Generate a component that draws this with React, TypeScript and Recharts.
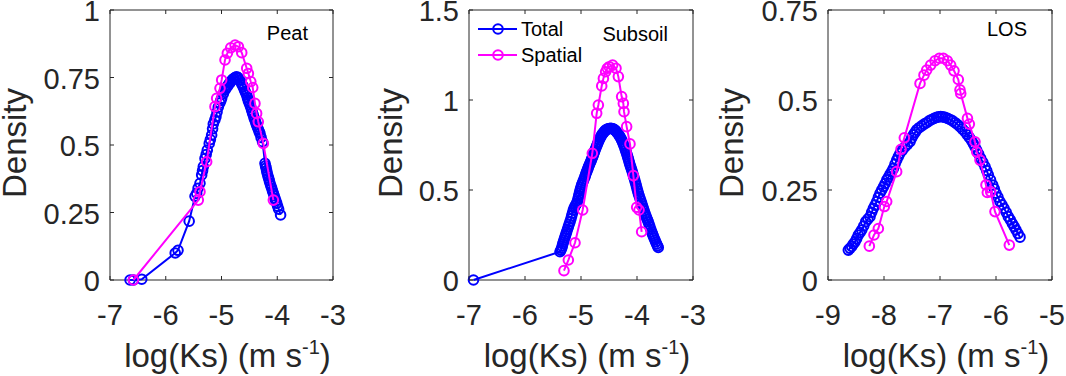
import React from 'react';
import { ScatterChart, Scatter, XAxis, YAxis, ReferenceArea, Legend } from 'recharts';

const BLUE = '#0000ff';
const MAGENTA = '#ff00ff';
const INK = '#262626';
const FONT = '"Liberation Sans", Arial, Helvetica, sans-serif';

type Pt = [number, number];

// Peat
const peatTotal: Pt[] = [
  [-6.64, 0], [-6.58, 0], [-6.43, 0.003], [-5.83, 0.1], [-5.78, 0.11], [-5.58, 0.218],
  [-5.475, 0.31], [-5.445, 0.321], [-5.42, 0.34], [-5.386, 0.358], [-5.356, 0.389], [-5.34, 0.405],
  [-5.326, 0.42], [-5.296, 0.45], [-5.275, 0.465], [-5.255, 0.481], [-5.22, 0.506], [-5.2, 0.52], [-5.177, 0.537],
  [-5.16, 0.56], [-5.147, 0.578], [-5.12, 0.592], [-5.1, 0.605], [-5.08, 0.622], [-5.058, 0.64], [-5.03, 0.655], [-5.012, 0.665], [-4.997, 0.673],
  [-4.967, 0.69], [-4.937, 0.704], [-4.92, 0.71], [-4.9, 0.716], [-4.88, 0.722], [-4.86, 0.728], [-4.84, 0.733], [-4.82, 0.738], [-4.8, 0.743], [-4.776, 0.747],
  [-4.75, 0.751], [-4.727, 0.753], [-4.7, 0.749], [-4.668, 0.741], [-4.64, 0.728], [-4.625, 0.722], [-4.61, 0.716], [-4.595, 0.708], [-4.58, 0.7], [-4.565, 0.693], [-4.548, 0.685],
  [-4.535, 0.675], [-4.52, 0.665], [-4.505, 0.657], [-4.489, 0.648], [-4.475, 0.64], [-4.46, 0.63], [-4.445, 0.62], [-4.43, 0.611], [-4.415, 0.6], [-4.4, 0.592], [-4.385, 0.583], [-4.37, 0.574],
  [-4.355, 0.566], [-4.34, 0.558], [-4.325, 0.55], [-4.31, 0.543], [-4.29, 0.528], [-4.264, 0.512], [-4.22, 0.432], [-4.21, 0.423], [-4.2, 0.415], [-4.19, 0.405], [-4.18, 0.395],
  [-4.168, 0.386], [-4.155, 0.377], [-4.142, 0.368], [-4.13, 0.358], [-4.115, 0.349], [-4.1, 0.34], [-4.085, 0.33], [-4.07, 0.321], [-4.055, 0.312], [-4.04, 0.302], [-4.025, 0.293], [-4.01, 0.284],
  [-3.993, 0.273], [-3.975, 0.262], [-3.94, 0.241],
];
const peatSpatial: Pt[] = [
  [-6.58, 0], [-5.416, 0.296], [-5.386, 0.327], [-5.266, 0.438], [-5.117, 0.642], [-5.087, 0.673],
  [-5.027, 0.71], [-4.997, 0.741], [-4.937, 0.815], [-4.895, 0.84], [-4.835, 0.86], [-4.757, 0.87],
  [-4.697, 0.864], [-4.637, 0.842], [-4.548, 0.784], [-4.518, 0.765], [-4.475, 0.735], [-4.44, 0.713],
  [-4.4, 0.654], [-4.37, 0.617], [-4.34, 0.586], [-4.25, 0.506], [-4.07, 0.296],
];

// Subsoil
const subsoilTotal: Pt[] = [
  [-6.92, 0], [-5.375, 0.157], [-5.36, 0.166], [-5.345, 0.176], [-5.335, 0.188], [-5.325, 0.2], [-5.315, 0.211], [-5.304, 0.222], [-5.292, 0.233], [-5.28, 0.245],
  [-5.268, 0.256], [-5.256, 0.268], [-5.241, 0.282], [-5.226, 0.296], [-5.211, 0.31], [-5.196, 0.324], [-5.18, 0.34], [-5.167, 0.356], [-5.152, 0.372], [-5.137, 0.389], [-5.122, 0.4], [-5.107, 0.41],
  [-5.092, 0.418], [-5.077, 0.426], [-5.063, 0.44], [-5.05, 0.455], [-5.04, 0.468], [-5.03, 0.481], [-5.02, 0.493], [-5.01, 0.505], [-4.999, 0.516], [-4.988, 0.528], [-4.974, 0.539], [-4.96, 0.55],
  [-4.945, 0.562], [-4.929, 0.574], [-4.92, 0.583], [-4.91, 0.593], [-4.898, 0.602], [-4.887, 0.611], [-4.876, 0.62], [-4.865, 0.63], [-4.852, 0.639], [-4.84, 0.648], [-4.827, 0.657], [-4.815, 0.667],
  [-4.803, 0.676], [-4.792, 0.685], [-4.781, 0.694], [-4.77, 0.704], [-4.76, 0.713], [-4.75, 0.722], [-4.735, 0.733], [-4.72, 0.745], [-4.705, 0.756], [-4.69, 0.768], [-4.675, 0.778], [-4.66, 0.788],
  [-4.645, 0.797], [-4.63, 0.806], [-4.612, 0.813], [-4.595, 0.82], [-4.578, 0.827], [-4.56, 0.833], [-4.537, 0.837], [-4.515, 0.84], [-4.492, 0.842], [-4.47, 0.843], [-4.45, 0.842], [-4.43, 0.84],
  [-4.412, 0.837], [-4.393, 0.833], [-4.378, 0.828], [-4.363, 0.822], [-4.348, 0.817], [-4.333, 0.811], [-4.318, 0.803], [-4.303, 0.795], [-4.288, 0.787], [-4.274, 0.778], [-4.259, 0.767], [-4.244, 0.755],
  [-4.229, 0.743], [-4.214, 0.731], [-4.202, 0.72], [-4.19, 0.708], [-4.178, 0.697], [-4.167, 0.685], [-4.156, 0.674], [-4.145, 0.662], [-4.135, 0.65], [-4.125, 0.639], [-4.112, 0.628], [-4.1, 0.616],
  [-4.088, 0.605], [-4.077, 0.593], [-4.063, 0.579], [-4.05, 0.565], [-4.037, 0.551], [-4.024, 0.537], [-4.012, 0.523], [-4.0, 0.509], [-3.988, 0.495], [-3.976, 0.481], [-3.961, 0.467], [-3.946, 0.453],
  [-3.931, 0.44], [-3.917, 0.426], [-3.902, 0.412], [-3.887, 0.398], [-3.872, 0.384], [-3.857, 0.37], [-3.843, 0.358], [-3.83, 0.347], [-3.815, 0.336], [-3.8, 0.324], [-3.785, 0.31], [-3.77, 0.296],
  [-3.754, 0.282], [-3.738, 0.268], [-3.724, 0.256], [-3.71, 0.245], [-3.695, 0.233], [-3.679, 0.222], [-3.665, 0.211], [-3.65, 0.2], [-3.635, 0.19], [-3.62, 0.181],
];
const subsoilSpatial: Pt[] = [
  [-5.304, 0.052], [-5.226, 0.111], [-5.107, 0.207], [-4.97, 0.389], [-4.798, 0.704], [-4.72, 0.926],
  [-4.69, 0.972], [-4.63, 1.078], [-4.6, 1.12], [-4.56, 1.157], [-4.53, 1.176], [-4.495, 1.185],
  [-4.435, 1.194], [-4.375, 1.176], [-4.333, 1.13], [-4.274, 1.019], [-4.244, 0.981], [-4.232, 0.935],
  [-4.185, 0.852], [-4.125, 0.756], [-4.065, 0.58], [-4.006, 0.404], [-3.964, 0.389], [-3.917, 0.268],
];

// LOS
const losTotal: Pt[] = [
  [-8.637, 0.083], [-8.607, 0.088], [-8.577, 0.093], [-8.548, 0.1], [-8.518, 0.106], [-8.488, 0.115], [-8.458, 0.125], [-8.428, 0.132], [-8.398, 0.139], [-8.362, 0.15], [-8.327, 0.162],
  [-8.288, 0.169], [-8.25, 0.176], [-8.22, 0.188], [-8.19, 0.199], [-8.16, 0.208], [-8.13, 0.218], [-8.1, 0.23], [-8.071, 0.241], [-8.04, 0.25], [-8.01, 0.259], [-7.98, 0.268], [-7.95, 0.278],
  [-7.92, 0.286], [-7.89, 0.294], [-7.86, 0.302], [-7.833, 0.31], [-7.803, 0.322], [-7.773, 0.333], [-7.744, 0.343], [-7.714, 0.352], [-7.67, 0.361], [-7.625, 0.37], [-7.58, 0.377], [-7.536, 0.384],
  [-7.506, 0.394], [-7.476, 0.403], [-7.446, 0.41], [-7.417, 0.417], [-7.372, 0.423], [-7.327, 0.428], [-7.283, 0.433], [-7.238, 0.437], [-7.193, 0.442], [-7.148, 0.446], [-7.104, 0.449], [-7.06, 0.452],
  [-7.024, 0.453], [-6.988, 0.454], [-6.95, 0.453], [-6.911, 0.452], [-6.865, 0.449], [-6.82, 0.446], [-6.775, 0.442], [-6.73, 0.437], [-6.687, 0.432], [-6.643, 0.426], [-6.6, 0.419], [-6.554, 0.412],
  [-6.515, 0.404], [-6.476, 0.396], [-6.44, 0.388], [-6.405, 0.379], [-6.375, 0.37], [-6.345, 0.361], [-6.31, 0.35], [-6.274, 0.338], [-6.235, 0.327], [-6.196, 0.315], [-6.166, 0.304], [-6.137, 0.292],
  [-6.098, 0.278], [-6.059, 0.264], [-6.03, 0.253], [-6.0, 0.241], [-5.965, 0.23], [-5.929, 0.218], [-5.893, 0.209], [-5.857, 0.199], [-5.818, 0.188], [-5.78, 0.176], [-5.744, 0.167], [-5.708, 0.157],
  [-5.675, 0.148], [-5.643, 0.139], [-5.607, 0.129], [-5.571, 0.119],
];
const losSpatial: Pt[] = [
  [-8.262, 0.094], [-8.179, 0.125], [-8.101, 0.143], [-7.994, 0.204], [-7.952, 0.218], [-7.774, 0.301],
  [-7.696, 0.363], [-7.637, 0.395], [-7.357, 0.546], [-7.286, 0.569], [-7.238, 0.583], [-7.167, 0.597],
  [-7.089, 0.609], [-7.012, 0.616], [-6.94, 0.616], [-6.869, 0.609], [-6.81, 0.597], [-6.75, 0.581],
  [-6.673, 0.557], [-6.643, 0.528], [-6.63, 0.518], [-6.51, 0.449], [-6.476, 0.433], [-6.375, 0.384],
  [-6.345, 0.356], [-6.286, 0.333], [-6.179, 0.264], [-6.155, 0.243], [-6.095, 0.245], [-6.018, 0.19],
  [-5.762, 0.097],
];

const SERIES = [
  { name: 'Total', color: BLUE },
  { name: 'Spatial', color: MAGENTA },
];

const TOP = 10;
const BOTTOM = 280;
const Y_AXIS_W = 60;
const X_AXIS_H = 60;

const rows = (pts: Pt[]) => pts.map(([x, y]) => ({ x, y }));

const ring = (color: string) => (p: any) => (
  <circle cx={p.cx} cy={p.cy} r={4.8} fill="none" stroke={color} strokeWidth={2} />
);

type PanelProps = {
  left: number;
  width: number;
  plotLeft: number;
  plotRight: number;
  xDomain: [number, number];
  xTicks: number[];
  yDomain: [number, number];
  yTicks: number[];
  total: Pt[];
  spatial: Pt[];
  tag: string;
  tagBaseline: number;
  densityX: number;
  legend?: boolean;
};

function Panel(p: PanelProps) {
  const XTick = ({ x, payload }: any) => (
    <g>
      <line x1={x} x2={x} y1={BOTTOM} y2={BOTTOM - 4} stroke={INK} />
      <line x1={x} x2={x} y1={TOP} y2={TOP + 4} stroke={INK} />
      <text x={x} y={BOTTOM + 45} textAnchor="middle" fontSize={29} fill={INK} fontFamily={FONT}>
        {payload.value}
      </text>
    </g>
  );
  const YTick = ({ y, payload }: any) => (
    <g>
      <line x1={p.plotLeft} x2={p.plotLeft + 4} y1={y} y2={y} stroke={INK} />
      <line x1={p.plotRight} x2={p.plotRight - 4} y1={y} y2={y} stroke={INK} />
      <text x={p.plotLeft - 10} y={y + 11} textAnchor="end" fontSize={29} fill={INK} fontFamily={FONT}>
        {payload.value}
      </text>
    </g>
  );
  const mid = (p.plotLeft + p.plotRight) / 2 + 6;

  return (
    <div style={{ position: 'absolute', left: p.left, top: 0 }}>
      <ScatterChart
        width={p.width}
        height={376}
        margin={{
          top: TOP,
          bottom: 376 - BOTTOM - X_AXIS_H,
          left: p.plotLeft - Y_AXIS_W,
          right: p.width - p.plotRight,
        }}
      >
        <XAxis
          type="number"
          dataKey="x"
          domain={p.xDomain}
          ticks={p.xTicks}
          interval={0}
          height={X_AXIS_H}
          axisLine={false}
          tickLine={false}
          tick={XTick}
          label={{
            value: 'log(Ks)',
            content: () => (
              <text x={mid} y={367} textAnchor="middle" fontSize={33} fill={INK} fontFamily={FONT}>
                log(Ks) (m s<tspan fontSize={20} dy={-13}>-1</tspan>
                <tspan dy={13}>)</tspan>
              </text>
            ),
          }}
        />
        <YAxis
          type="number"
          dataKey="y"
          domain={p.yDomain}
          ticks={p.yTicks}
          interval={0}
          width={Y_AXIS_W}
          axisLine={false}
          tickLine={false}
          tick={YTick}
          label={{
            value: 'Density',
            content: () => (
              <text
                transform={`translate(${p.densityX}, 143) rotate(-90)`}
                textAnchor="middle"
                fontSize={33}
                fill={INK}
                fontFamily={FONT}
              >
                Density
              </text>
            ),
          }}
        />
        <ReferenceArea
          x1={p.xDomain[0]}
          x2={p.xDomain[1]}
          y1={p.yDomain[0]}
          y2={p.yDomain[1]}
          fill="none"
          stroke={INK}
          strokeWidth={1}
          label={{
            value: p.tag,
            content: () => (
              <text x={p.plotRight - 25} y={p.tagBaseline} textAnchor="end" fontSize={20} fill="#000" fontFamily={FONT}>
                {p.tag}
              </text>
            ),
          }}
        />
        <Scatter
          name={SERIES[0].name}
          data={rows(p.total)}
          line={{ stroke: BLUE, strokeWidth: 2 }}
          lineType="joint"
          shape={ring(BLUE)}
          isAnimationActive={false}
        />
        <Scatter
          name={SERIES[1].name}
          data={rows(p.spatial)}
          line={{ stroke: MAGENTA, strokeWidth: 2 }}
          lineType="joint"
          shape={ring(MAGENTA)}
          isAnimationActive={false}
        />
        {p.legend && (
          <Legend
            layout="vertical"
            align="center"
            verticalAlign="middle"
            wrapperStyle={{ left: p.plotLeft + 4, top: 10, width: 130, height: 60 }}
            content={() => (
              <svg width={130} height={60} style={{ display: 'block' }}>
                {SERIES.map((s, i) => (
                  <g key={s.name}>
                    <line x1={5} x2={44} y1={19 + i * 26} y2={19 + i * 26} stroke={s.color} strokeWidth={2} />
                    <circle cx={25} cy={19 + i * 26} r={4.8} fill="none" stroke={s.color} strokeWidth={2} />
                    <text x={48} y={26 + i * 26} fontSize={20} fill="#000" fontFamily={FONT}>
                      {s.name}
                    </text>
                  </g>
                ))}
              </svg>
            )}
          />
        )}
      </ScatterChart>
    </div>
  );
}

export default function App() {
  return (
    <div style={{ position: 'absolute', left: 0, top: 0, width: 1066, height: 376, background: '#fff' }}>
      <Panel
        left={0}
        width={355}
        plotLeft={110}
        plotRight={333}
        xDomain={[-7, -3]}
        xTicks={[-7, -6, -5, -4, -3]}
        yDomain={[0, 1]}
        yTicks={[0, 0.25, 0.5, 0.75, 1]}
        total={peatTotal}
        spatial={peatSpatial}
        tag="Peat"
        tagBaseline={40}
        densityX={26}
      />
      <Panel
        left={355}
        width={355}
        plotLeft={114}
        plotRight={338}
        xDomain={[-7, -3]}
        xTicks={[-7, -6, -5, -4, -3]}
        yDomain={[0, 1.5]}
        yTicks={[0, 0.5, 1, 1.5]}
        total={subsoilTotal}
        spatial={subsoilSpatial}
        tag="Subsoil"
        tagBaseline={41}
        densityX={47}
        legend
      />
      <Panel
        left={710}
        width={356}
        plotLeft={118}
        plotRight={342}
        xDomain={[-9, -5]}
        xTicks={[-9, -8, -7, -6, -5]}
        yDomain={[0, 0.75]}
        yTicks={[0, 0.25, 0.5, 0.75]}
        total={losTotal}
        spatial={losSpatial}
        tag="LOS"
        tagBaseline={36}
        densityX={33}
      />
    </div>
  );
}
